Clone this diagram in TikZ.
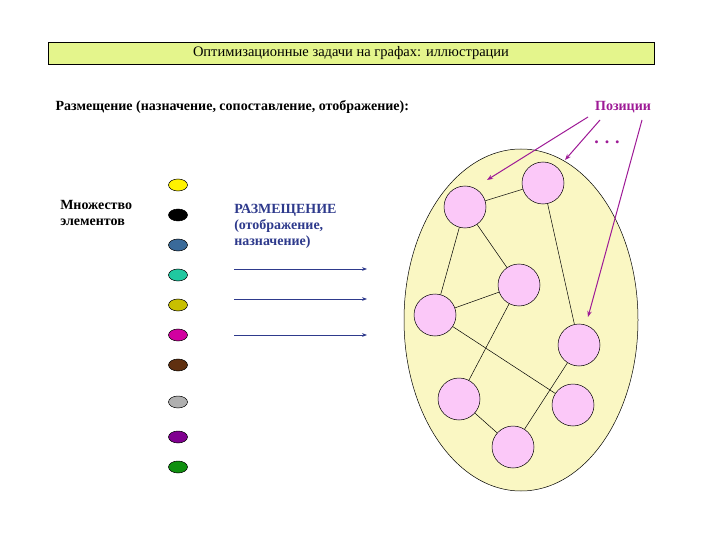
\documentclass[tikz,border=0pt]{standalone}
\usepackage{fontspec}
\setmainfont{Liberation Serif}
\usetikzlibrary{arrows.meta,shapes.geometric}
\definecolor{titlegreen}{HTML}{E4F58C}
\definecolor{ovalfill}{HTML}{FAF7C3}
\definecolor{posfill}{HTML}{FBC8F8}
\definecolor{pospurple}{HTML}{9E1A96}
\definecolor{mapblue}{HTML}{2E3A8C}
\newcommand{\txt}{\fontsize{14}{16}\selectfont\bfseries}
\begin{document}
\begin{tikzpicture}[x=1pt, y=-1pt, line width=0.5pt,
  place/.style={circle, draw, fill=posfill, minimum size=42pt, inner sep=0pt},
  elem/.style={ellipse, draw, minimum width=19pt, minimum height=12pt, inner sep=0pt},
  ptr/.style={pospurple, line width=1pt, -{Stealth[length=6pt]}},
  maparrow/.style={mapblue, line width=1pt, -{Stealth[length=5pt]}}]

\useasboundingbox (0,0) rectangle (720,540);

% title
\node[draw, fill=titlegreen, minimum width=606pt, minimum height=22pt,
  font=\fontsize{14.5}{16}\selectfont] (title) at (351,53)
  {Оптимизационные задачи на графах: иллюстрации};
\node[anchor=west, font=\txt] (task) at (52,107)
  {Размещение (назначение, сопоставление, отображение):};

% positions
\draw[fill=ovalfill] (521,320) ellipse (117 and 171);
\node[place] (p1) at (465,207) {};
\node[place] (p2) at (543,183) {};
\node[place] (p3) at (519,285) {};
\node[place] (p4) at (435,315) {};
\node[place] (p5) at (579,345) {};
\node[place] (p6) at (459,399) {};
\node[place] (p7) at (573,405) {};
\node[place] (p8) at (513,447) {};
\foreach \a/\b in {p1/p2, p1/p3, p1/p4, p2/p5, p3/p4, p3/p6, p4/p7, p5/p8, p6/p8}
  \draw (\a) -- (\b);

\node[pospurple, font=\txt] (poz) at (623,107) {Позиции};
\node[pospurple, font=\fontsize{18}{18}\selectfont\bfseries] (dots) at (607,142) {. . .};
\coordinate (t1) at (487,180);
\coordinate (t2) at (565,160);
\coordinate (t3) at (588,317);
\draw[ptr] (588,117) -- (t1);
\draw[ptr] (600,120) -- (t2);
\draw[ptr] (642,120) -- (t3);

% elements
\foreach \c/\y [count=\i] in {yellow/185, black/215, {rgb,255:red,58;green,106;blue,154}/245,
    {rgb,255:red,32;green,200;blue,160}/275, {rgb,255:red,200;green,192;blue,0}/305,
    {rgb,255:red,210;green,0;blue,160}/335, {rgb,255:red,96;green,48;blue,16}/365,
    {rgb,255:red,176;green,176;blue,176}/402, {rgb,255:red,128;green,0;blue,144}/437,
    {rgb,255:red,16;green,144;blue,16}/467}
  \node[elem, fill={\c}] (e\i) at (178,\y) {};
\node[anchor=north west, align=left, font=\txt, inner sep=0pt] (set) at (60,200)
  {Множество\\элементов};

% mapping
\node[anchor=north west, align=left, mapblue, font=\txt, inner sep=0pt] (map) at (234,204)
  {РАЗМЕЩЕНИЕ\\(отображение,\\ назначение)};
\foreach \y [count=\i] in {269, 299, 335} {
  \coordinate (a\i) at (234,\y);
  \coordinate (b\i) at (367,\y);
  \draw[maparrow] (a\i) -- (b\i);
}
\end{tikzpicture}
\end{document}
